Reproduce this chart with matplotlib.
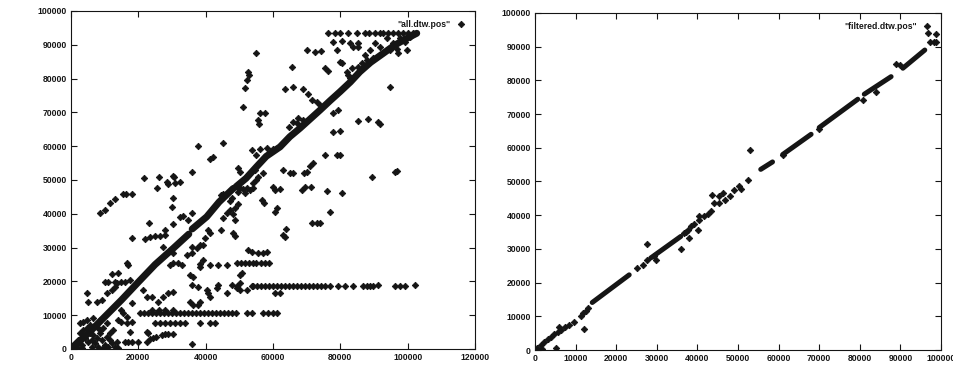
import matplotlib
matplotlib.use('Agg')
import matplotlib.pyplot as plt
import numpy as np

# ---- left panel: "all.dtw.pos" ----
left_xticks = [0, 20000, 40000, 60000, 80000, 100000, 120000]
left_yticks = [0, 10000, 20000, 30000, 40000, 50000, 60000, 70000, 80000, 90000, 100000]

# dense stretches of the main alignment path
left_runs = [
    [(0, 0), (5000, 4500), (10000, 9500), (15000, 14500), (20300, 20100),
     (25000, 25000), (30400, 29800), (35000, 34000)],
    [(36000, 35500), (40300, 39100), (44000, 43500), (48200, 47500)],
    [(49000, 48000), (52000, 50500), (55100, 53900), (58000, 57000), (62100, 59800),
     (65000, 62800), (68000, 65300), (71000, 68000), (74000, 70700), (77000, 73500),
     (79900, 76100), (83000, 79000), (85800, 82000), (89000, 84800), (92800, 87500),
     (96000, 89800), (99000, 91500), (102700, 93400)],
]

left_band_18k_x = [49200, 53700, 54200, 55300, 56500, 57700, 58900, 60100, 61300, 62500, 63700,
                   64900, 66000, 67200, 68400, 69600, 70800, 72000, 73200, 74400, 75500,
                   76900, 79400, 81400, 83900, 86800, 87800, 88800, 89800, 96200, 97700, 99200]
left_band_11k_x = [20500, 21700, 22900, 24100, 25200, 26400, 27600, 28800, 30000, 31200,
                   32400, 33500, 34700, 35900, 37100, 38300, 39500, 40700, 41900, 43100,
                   44300, 45400, 46600, 47800, 49000, 52200, 53700, 57100, 58600, 59900, 61100]
left_band_8k_x = [24900, 26400, 27900, 29400, 30900, 32400, 33900, 38300, 41300, 42800]
left_band_25k_x = [49200, 50400, 51600, 52800, 54000, 55100, 56300, 57500, 58700]

left_points = [
    # top row and the triangle near the end of the path
    (76400, 93400), (78400, 93400), (79900, 93400), (82400, 93400), (84900, 93400),
    (87400, 93400), (88400, 93400), (90400, 93400), (91900, 93400), (92800, 93400),
    (94200, 93400), (95700, 93400), (97200, 93400), (98700, 93400), (100200, 93400),
    (101700, 93400), (93800, 91900), (95700, 90400), (97700, 91900), (99200, 90900),
    (100700, 92400), (96700, 88900), (94700, 88400), (91800, 89400), (90300, 90400),
    (88800, 88400), (87300, 87000), (87800, 85500), (89800, 86000), (86300, 84500),
    (85300, 83500), (99700, 88400), (97200, 87500),
    # upper scatter
    (77900, 90900), (80400, 91200), (82900, 90400), (85300, 90400), (83900, 89400),
    (85300, 89400), (79000, 88400), (70000, 88600), (72500, 87900), (74400, 88200),
    (55100, 87500), (65500, 83500), (75400, 83000), (76400, 82300), (79900, 85000),
    (80400, 84500), (81900, 82000), (82400, 81000), (82900, 80100), (83400, 83000),
    (52700, 82000), (53000, 81000), (52400, 79600), (51700, 77100), (94700, 77400),
    (63600, 76800), (66000, 77400), (69000, 76800), (70500, 75400), (71500, 73600),
    (73000, 73200), (74000, 72200), (77900, 69700), (79400, 70700), (51200, 71700),
    (56100, 69900), (57600, 69900), (55600, 67700), (55900, 66600), (85300, 67500),
    (88300, 67900), (91300, 67200), (91800, 66600), (77900, 64300), (79900, 64600),
    (67500, 68200), (66000, 67200), (64800, 65800), (69000, 67700), (67000, 66800),
    (45200, 60800), (37800, 60100), (42300, 56900), (41300, 56100), (53700, 58900),
    (56100, 59100), (55100, 57400), (58100, 59400), (60100, 59200), (75400, 57400),
    (78900, 57400), (79900, 57400), (72000, 54900), (71000, 54200), (63100, 52900),
    (65200, 52000), (66000, 52200), (69200, 52200), (70000, 52500), (89500, 51000),
    (96200, 52300), (96700, 52800), (68500, 47000), (69500, 48000), (71200, 47800),
    (75900, 46800), (80400, 46200), (76900, 40600), (71500, 37200), (73000, 37200),
    (74000, 37200), (63900, 35400), (63600, 33200), (63100, 33700), (60100, 47800),
    (60600, 47000), (62100, 47200), (61100, 41600), (60600, 40600), (56600, 44100),
    (57300, 43300), (49700, 53400), (50200, 52500), (54600, 52900), (57100, 52200),
    (55100, 50000), (54200, 49000), (55600, 51000),
    # cluster around (50000, 47500)
    (48200, 47500), (49200, 48000), (50200, 47500), (51200, 47200), (52200, 47500),
    (53200, 47000), (54200, 47500), (49700, 46500), (51700, 46200),
    (47700, 44600), (47200, 43900), (49700, 42900), (48700, 41600), (48200, 39900),
    (48700, 38200), (44700, 45600), (45200, 46000), (47200, 41100), (46200, 40100),
    (45200, 38900), (44700, 35200), (48200, 34200), (48700, 33500), (40800, 35200),
    (41300, 34200), (39800, 32700), (38300, 30800), (39300, 30800),
    # left of the path
    (21800, 50700), (26100, 51000), (28600, 49300), (30400, 51200), (32400, 49500),
    (30600, 50800), (25600, 47500), (28900, 48700), (30900, 49000), (29900, 42100),
    (30400, 44600), (35800, 52500), (8600, 40300), (10100, 41100), (11600, 43100),
    (13100, 44400), (15500, 45800), (16300, 45800), (18000, 45800), (23300, 37400),
    (18000, 32700), (22000, 32400), (23500, 33200), (24900, 33500), (26400, 33500),
    (27900, 33700), (27900, 35200), (27400, 30300), (30400, 37000), (32400, 39100),
    (33400, 39300), (35800, 40100), (34800, 38200), (30400, 28300), (31900, 25300),
    (32900, 24800), (35800, 30300), (37300, 29800), (34400, 27800), (35800, 28300),
    (39300, 26300), (38300, 24400), (35300, 21900), (36300, 21400), (38300, 25100),
    (41300, 24800), (43800, 24800), (46200, 24800), (29400, 24800), (30400, 25300),
    (37800, 18400), (35800, 18900), (40300, 17500), (41300, 15500), (40800, 16500),
    (43300, 17900), (43800, 18900), (46200, 16500), (47700, 18900), (50200, 19400),
    (50200, 17500), (52200, 17500), (50200, 21900), (50700, 22400), (52700, 29300),
    (53700, 28600), (55600, 28300), (57100, 28300), (58100, 28600), (60600, 16500),
    (62100, 16500), (91300, 18900), (102200, 18900), (49200, 17900),
    (35300, 14000), (36300, 13000), (37800, 13000), (38300, 14000), (27400, 15500),
    (28900, 16500), (30400, 17000), (21500, 17500), (22500, 15500), (24000, 15500),
    (25900, 14000), (10600, 16500), (12100, 17500), (13100, 18400), (13600, 19400),
    (15000, 19900), (16000, 19900), (12100, 22200), (14100, 22400), (10100, 19900),
    (11100, 19900), (13100, 19900), (4700, 16500), (5100, 14000), (7600, 14000),
    (9100, 14500), (17500, 20400), (17000, 24800), (16500, 25300), (18000, 13500),
    (15000, 11500), (15500, 10600), (16500, 9600), (14100, 8600), (15000, 8100),
    (16500, 7600), (18000, 8100), (17500, 5100), (16000, 2200), (17000, 2200),
    (18000, 2200), (20000, 2200), (35800, 1400), (22500, 5100), (23000, 4600),
    (22500, 2200), (23500, 2900), (24500, 3200), (25400, 3600), (26900, 4100),
    (27900, 4300), (28900, 4300), (30400, 4300),
    (24100, 11500), (26000, 11500), (28000, 11500), (30400, 11500),
    # blob near the origin
    (1200, 1700), (2200, 2700), (3200, 1200), (4200, 3200), (5100, 2200), (6100, 700),
    (7100, 1700), (8100, 700), (9100, 2700), (10100, 1200), (11100, 700), (12100, 1700),
    (13100, 700), (13600, 2200), (14100, 200), (2700, 4600), (3700, 5600), (4700, 6100),
    (5600, 4600), (6600, 4100), (8600, 4600), (10600, 3600), (11600, 4600), (12600, 5600),
    (2700, 7600), (3700, 8100), (5600, 7100), (7600, 6600), (9600, 6100), (10600, 7600),
    (8600, 8600), (6600, 9100), (4700, 8600), (1700, 700), (3200, 200), (6100, 2700),
    (7600, 3200), (9600, 200), (11600, 2700), (8600, 5600),
]

# ---- right panel: "filtered.dtw.pos" ----
right_xticks = [0, 10000, 20000, 30000, 40000, 50000, 60000, 70000, 80000, 90000, 100000]
right_yticks = [0, 10000, 20000, 30000, 40000, 50000, 60000, 70000, 80000, 90000, 100000]

right_runs = [
    [(14100, 14100), (23200, 22300)],
    [(28500, 27300), (35900, 33700)],
    [(55600, 53600), (58500, 55800)],
    [(61000, 58000), (68000, 64000)],
    [(70000, 66000), (79500, 74400)],
    [(81100, 75900), (87700, 81100)],
    [(90600, 83600), (96000, 89000)],
]

right_points = [
    (200, 0), (600, 700), (1400, 1500), (2200, 2500), (3200, 3200), (4000, 4000),
    (4800, 4800), (5700, 5300), (6500, 6000), (7300, 6700), (8400, 7400), (9600, 8400),
    (11300, 10200), (11900, 10900), (12500, 11700), (13100, 12400),
    (12100, 6200), (5800, 6800), (5100, 500), (1800, 200),
    (25200, 24200), (26500, 25300), (27700, 26600), (27700, 31500), (29300, 27800),
    (29800, 26800), (35900, 30000), (36700, 34700), (37600, 35500), (37100, 35000),
    (38400, 36900), (39200, 37500), (40400, 38700), (41700, 39700), (42500, 40500),
    (43300, 41200), (38000, 33200), (40200, 35700), (40400, 39900), (43600, 46100),
    (44100, 43600), (45400, 45600), (46200, 46600), (45400, 43600), (46800, 44600),
    (48100, 45600), (49100, 47400), (50300, 48600), (50700, 47800), (52400, 50300),
    (53000, 59300), (61200, 58000), (70000, 65500), (80700, 74100), (84000, 76400),
    (88900, 84800), (89800, 84500), (97200, 91300), (98200, 91300), (98800, 91500),
    (96800, 94200), (98800, 93700),
]

INK = '#151515'
FONT = 'Liberation Sans'


def draw_panel(ax, runs, points, label, xticks, yticks, xmax, run_width):
    for run in runs:
        rx, ry = zip(*run)
        ax.plot(rx, ry, color=INK, lw=run_width, solid_capstyle='round', zorder=2)
    px, py = zip(*points)
    ax.plot(px, py, ls='none', marker='D', ms=3.3, mfc=INK, mec=INK, mew=0.6,
            label=label, zorder=3)
    ax.set_xlim(0, xmax)
    ax.set_ylim(0, 100000)
    ax.set_xticks(xticks)
    ax.set_yticks(yticks)
    ax.set_xticklabels([str(t) for t in xticks])
    ax.set_yticklabels([str(t) for t in yticks])
    ax.tick_params(direction='in', top=True, right=True, length=4, width=0.8,
                   labelsize=6.2, colors=INK, pad=3)
    for lab in ax.get_xticklabels() + ax.get_yticklabels():
        lab.set_fontfamily(FONT)
        lab.set_fontweight('bold')
    for sp in ax.spines.values():
        sp.set_linewidth(0.8)
        sp.set_color(INK)
    leg = ax.legend(loc='upper right', markerfirst=False, frameon=False,
                    handlelength=1.2, handletextpad=0.6, borderaxespad=0.6,
                    prop={'family': FONT, 'size': 6.2, 'weight': 'bold'})
    for t in leg.get_texts():
        t.set_color(INK)


fig = plt.figure(figsize=(9.54, 3.70), dpi=100)
ax1 = fig.add_axes([0.0744, 0.0568, 0.4235, 0.9135])
ax2 = fig.add_axes([0.5608, 0.0540, 0.4256, 0.9110])

draw_panel(ax1, left_runs,
           left_points
           + [(x, 18600) for x in left_band_18k_x]
           + [(x, 10600) for x in left_band_11k_x]
           + [(x, 7800) for x in left_band_8k_x]
           + [(x, 25300) for x in left_band_25k_x],
           '"all.dtw.pos"', left_xticks, left_yticks, 120000, 5.0)
draw_panel(ax2, right_runs, right_points, '"filtered.dtw.pos"',
           right_xticks, right_yticks, 100000, 3.6)

fig.savefig('out.png', dpi=100)
